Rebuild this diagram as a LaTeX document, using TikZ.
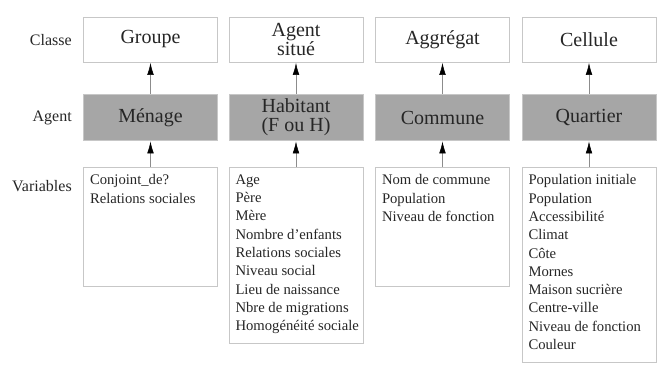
\documentclass[tikz,border=0pt]{standalone}
\usepackage{fontspec}
\setmainfont{Liberation Serif}
\usetikzlibrary{arrows.meta}
\tikzstyle{every node}=[font=\rmfamily\fontsize{15}{14}\selectfont, text=black!85]
\tikzstyle{classe}=[draw=black!22, fill=white, minimum width=100.5pt, minimum height=33.75pt, inner sep=1pt, align=center]
\tikzstyle{agent}=[draw=black!22, fill=black!35, minimum width=100.5pt, minimum height=34.5pt, inner sep=1pt, align=center]
\tikzstyle{vbox}=[draw=black!22, fill=white, minimum width=100.5pt, anchor=north, inner sep=0pt]
\tikzstyle{vtext}=[anchor=north west, align=left, inner sep=0pt, font=\rmfamily\fontsize{11}{13.7}\selectfont]
\tikzstyle{rowlabel}=[anchor=east, inner sep=0pt, font=\rmfamily\fontsize{12}{14}\selectfont]
\tikzstyle{lien}=[draw=black!45, line width=0.4pt, -{Latex[black, length=9pt, width=5pt]}, shorten >=0.5pt]

\begin{document}
\begin{tikzpicture}[x=0.75pt, y=-0.75pt]
            \useasboundingbox (0, 0) rectangle (657, 367);

            % etiquettes des lignes
            \node [rowlabel] (lclasse) at (72, 40) {Classe};
            \node [rowlabel] (lagent) at (72, 118) {Agent};
            \node [rowlabel] (lvar) at (72, 186) {Variables};

            % classes
            \node [classe] (c1) at (150.5, 39.5) {Groupe};
            \node [classe] (c2) at (296, 39.5) {Agent\\situé};
            \node [classe] (c3) at (442.5, 39.5) {Aggrégat};
            \node [classe] (c4) at (589, 39.5) {Cellule};

            % agents
            \node [agent] (a1) at (150.5, 117.5) {Ménage};
            \node [agent] (a2) at (296, 117.5) {Habitant\\(F ou H)};
            \node [agent] (a3) at (442.5, 117.5) {Commune};
            \node [agent] (a4) at (589, 117.5) {Quartier};

            % variables
            \node [vbox, minimum height=89.25pt] (v1) at (150.5, 167) {};
            \node [vbox, minimum height=132pt] (v2) at (296, 167) {};
            \node [vbox, minimum height=89.25pt] (v3) at (442.5, 167) {};
            \node [vbox, minimum height=146.25pt] (v4) at (589, 167) {};

            \node [vtext] (t1) at ([shift={(6.5, 7.5)}]v1.north west) {Conjoint\_de?\\Relations sociales};
            \node [vtext] (t2) at ([shift={(6.5, 7.5)}]v2.north west) {Age\\Père\\Mère\\Nombre d'enfants\\Relations sociales\\Niveau social\\Lieu de naissance\\Nbre de migrations\\Homogénéité sociale};
            \node [vtext] (t3) at ([shift={(6.5, 7.5)}]v3.north west) {Nom de commune\\Population\\Niveau de fonction};
            \node [vtext] (t4) at ([shift={(6.5, 7.5)}]v4.north west) {Population initiale\\Population\\Accessibilité\\Climat\\Côte\\Mornes\\Maison sucrière\\Centre-ville\\Niveau de fonction\\Couleur};

            % liens
            \draw [lien] (a1) -- (c1);
            \draw [lien] (a2) -- (c2);
            \draw [lien] (a3) -- (c3);
            \draw [lien] (a4) -- (c4);

            \draw [lien] (v1) -- (a1);
            \draw [lien] (v2) -- (a2);
            \draw [lien] (v3) -- (a3);
            \draw [lien] (v4) -- (a4);
\end{tikzpicture}
\end{document}
